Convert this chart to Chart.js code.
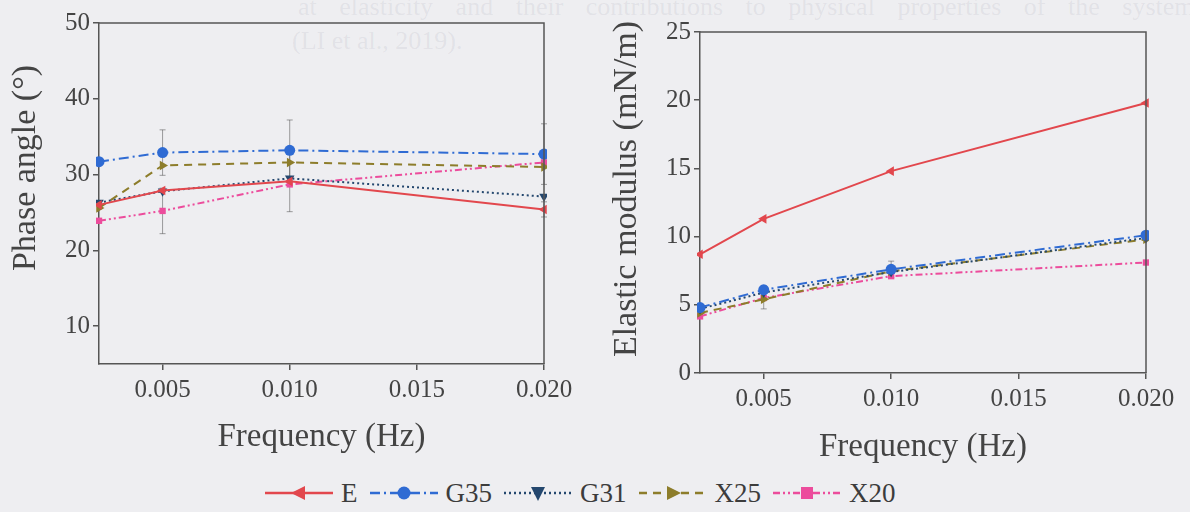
<!DOCTYPE html>
<html>
<head>
<meta charset="utf-8">
<title>Phase angle and elastic modulus vs frequency</title>
<script src="https://cdn.jsdelivr.net/npm/chart.js@4.4.1/dist/chart.umd.min.js"></script>
<style>
  body {
    margin: 0;
    width: 1190px;
    height: 512px;
    overflow: hidden;
    position: relative;
    background: #eeeef1;
    font-family: "Liberation Serif", "DejaVu Serif", serif;
  }
  .panel { position: absolute; top: 0; height: 470px; }
  #phasePanel { left: 0; width: 590px; }
  #modulusPanel { left: 590px; width: 600px; }
  .bleed {
    position: absolute;
    color: rgba(120, 120, 135, 0.11);
    font-size: 26px;
    white-space: nowrap;
  }
  #legend {
    position: absolute;
    left: 263px;
    top: 474px;
    height: 38px;
    display: flex;
    align-items: center;
    font-size: 27px;
    color: #3c3c3c;
  }
  .item { display: flex; align-items: center; margin-right: 10px; }
  .item svg { margin-right: 6px; }
</style>
</head>
<body>

<div class="bleed" style="left:298px; top:-8px; word-spacing:16px;">at elasticity and their contributions to physical properties of the system</div>
<div class="bleed" style="left:292px; top:26px;">(LI et al., 2019).</div>

<div class="panel" id="phasePanel"><canvas id="phaseChart" width="590" height="470"></canvas></div>
<div class="panel" id="modulusPanel"><canvas id="modulusChart" width="600" height="470"></canvas></div>
<div id="legend"></div>

<script>
// frequencies measured (Hz) and axis ticks
const freqs = [0.0025, 0.005, 0.010, 0.020];
const freqTicks = [0.005, 0.010, 0.015, 0.020];
const phaseTicks = [10, 20, 30, 40, 50];
const modulusTicks = [0, 5, 10, 15, 20, 25];

const seriesNames = ['E', 'G35', 'G31', 'X25', 'X20'];

// phase angle (deg)
const phaseE   = [26.0, 27.9, 29.1, 25.4];
const phaseG35 = [31.7, 32.9, 33.2, 32.7];
const phaseG31 = [26.3, 27.8, 29.5, 27.1];
const phaseX25 = [25.6, 31.2, 31.6, 31.0];
const phaseX20 = [23.9, 25.2, 28.7, 31.6];

// phase angle standard deviations
const phaseErrE   = [0, 0, 4.0, 1.0];
const phaseErrG35 = [0, 3.0, 4.0, 4.0];
const phaseErrG31 = [0, 0, 0, 0];
const phaseErrX25 = [0, 0, 0, 0];
const phaseErrX20 = [0, 3.0, 0, 0];

// elastic modulus (mN/m)
const modE   = [8.7, 11.3, 14.8, 19.8];
const modG35 = [4.8, 6.1, 7.6, 10.1];
const modG31 = [4.7, 5.9, 7.4, 9.9];
const modX25 = [4.4, 5.4, 7.45, 9.8];
const modX20 = [4.15, 5.5, 7.1, 8.1];

// elastic modulus standard deviations
const modErrE   = [0, 0, 0, 0];
const modErrG35 = [0, 0.3, 0.6, 0];
const modErrG31 = [0, 0, 0, 0];
const modErrX25 = [0, 0.7, 0, 0];
const modErrX20 = [0, 0, 0, 0];

// line / marker look for each sample
const seriesStyles = [
  { color: '#e2474d', dash: [], marker: 'triangle', rot: -90 },
  { color: '#2f6bd3', dash: [10, 4, 2, 4], marker: 'circle', rot: 0 },
  { color: '#24476e', dash: [2, 3], marker: 'triangle', rot: 180 },
  { color: '#8d7d2b', dash: [8, 6], marker: 'triangle', rot: 90 },
  { color: '#ec4c9c', dash: [7, 3, 2, 3, 2, 3], marker: 'rect', rot: 0 }
];

const AXIS_COLOR = '#555';
const TEXT_COLOR = '#444';
const SERIF = '"Liberation Serif", "DejaVu Serif", serif';

function buildDatasets(seriesValues, seriesErrors) {
  return seriesValues.map((vals, s) => {
    const st = seriesStyles[s];
    return {
      label: seriesNames[s],
      data: freqs.map((f, i) => ({ x: f, y: vals[i] })),
      errors: seriesErrors[s],
      borderColor: st.color,
      backgroundColor: st.color,
      borderWidth: 2,
      borderDash: st.dash,
      pointStyle: st.marker,
      rotation: st.rot,
      pointRadius: st.marker === 'rect' ? 4.5 : 5.5,
      pointBorderWidth: 0,
      tension: 0,
      clip: 3
    };
  });
}

// vertical error bars drawn with the chart's own scales
const errorBars = {
  id: 'errorBars',
  beforeDatasetsDraw(chart) {
    const { ctx, scales: { x, y } } = chart;
    ctx.save();
    ctx.strokeStyle = 'rgba(70,70,70,0.5)';
    ctx.lineWidth = 1;
    chart.data.datasets.forEach(ds => {
      (ds.errors || []).forEach((e, i) => {
        if (!e) return;
        const px = x.getPixelForValue(ds.data[i].x);
        const top = y.getPixelForValue(ds.data[i].y + e);
        const bot = y.getPixelForValue(ds.data[i].y - e);
        ctx.beginPath();
        ctx.moveTo(px, top); ctx.lineTo(px, bot);
        ctx.moveTo(px - 3, top); ctx.lineTo(px + 3, top);
        ctx.moveTo(px - 3, bot); ctx.lineTo(px + 3, bot);
        ctx.stroke();
      });
    });
    ctx.restore();
  }
};

// closes the plot box (top and right edges)
const frameBox = {
  id: 'frameBox',
  afterDraw(chart) {
    const { ctx, chartArea: a } = chart;
    ctx.save();
    ctx.strokeStyle = AXIS_COLOR;
    ctx.lineWidth = 1.5;
    ctx.beginPath();
    ctx.moveTo(a.left, a.top);
    ctx.lineTo(a.right, a.top);
    ctx.lineTo(a.right, a.bottom);
    ctx.stroke();
    ctx.restore();
  }
};

// rotated y-axis title placed freely
const sideTitle = {
  id: 'sideTitle',
  afterDraw(chart, args, opts) {
    const ctx = chart.ctx;
    ctx.save();
    ctx.translate(opts.x, opts.y);
    ctx.rotate(-Math.PI / 2);
    ctx.font = '34px ' + SERIF;
    ctx.fillStyle = TEXT_COLOR;
    ctx.textAlign = 'center';
    ctx.textBaseline = 'middle';
    ctx.fillText(opts.text, 0, 0);
    ctx.restore();
  }
};

function makeChart(canvasId, cfg) {
  return new Chart(document.getElementById(canvasId), {
    type: 'line',
    data: { datasets: buildDatasets(cfg.values, cfg.errors) },
    plugins: [errorBars, frameBox, sideTitle],
    options: {
      responsive: false,
      animation: false,
      events: [],
      layout: { padding: { left: 0, top: cfg.padTop, right: cfg.padRight, bottom: 0 } },
      plugins: {
        legend: { display: false },
        tooltip: { enabled: false },
        sideTitle: { text: cfg.yTitle, x: cfg.titleX, y: cfg.titleY }
      },
      scales: {
        x: {
          type: 'linear',
          min: 0.0025,
          max: 0.020,
          afterBuildTicks: s => { s.ticks = freqTicks.map(v => ({ value: v })); },
          afterFit: s => { s.height = cfg.xHeight; },
          border: { display: true, color: AXIS_COLOR, width: 1.5 },
          grid: { display: true, drawOnChartArea: false, drawTicks: true, tickLength: 6, color: AXIS_COLOR, lineWidth: 1.5 },
          ticks: {
            autoSkip: false,
            maxRotation: 0,
            padding: 5,
            color: TEXT_COLOR,
            font: { family: SERIF, size: 25 },
            callback: v => v.toFixed(3)
          },
          title: {
            display: true,
            text: 'Frequency (Hz)',
            color: TEXT_COLOR,
            font: { family: SERIF, size: 33 },
            padding: { top: 0, bottom: cfg.xTitlePad }
          }
        },
        y: {
          type: 'linear',
          min: cfg.yMin,
          max: cfg.yMax,
          afterBuildTicks: s => { s.ticks = cfg.yTicks.map(v => ({ value: v })); },
          afterFit: s => { s.width = cfg.yWidth; },
          border: { display: true, color: AXIS_COLOR, width: 1.5 },
          grid: { display: true, drawOnChartArea: false, drawTicks: true, tickLength: 6, color: AXIS_COLOR, lineWidth: 1.5 },
          ticks: {
            padding: 3,
            color: TEXT_COLOR,
            font: { family: SERIF, size: 25 }
          }
        }
      }
    }
  });
}

makeChart('phaseChart', {
  values: [phaseE, phaseG35, phaseG31, phaseX25, phaseX20],
  errors: [phaseErrE, phaseErrG35, phaseErrG31, phaseErrX25, phaseErrX20],
  yMin: 5, yMax: 50, yTicks: phaseTicks,
  yTitle: 'Phase angle (°)', titleX: 26, titleY: 168,
  padTop: 23, padRight: 46, yWidth: 99, xHeight: 106, xTitlePad: 13
});

makeChart('modulusChart', {
  values: [modE, modG35, modG31, modX25, modX20],
  errors: [modErrE, modErrG35, modErrG31, modErrX25, modErrX20],
  yMin: 0, yMax: 25, yTicks: modulusTicks,
  yTitle: 'Elastic modulus (mN/m)', titleX: 37, titleY: 189,
  padTop: 32, padRight: 44, yWidth: 110, xHeight: 97, xTitlePad: 3
});

// legend with line samples matching each dataset's stroke and marker
const legendEl = document.getElementById('legend');
seriesNames.forEach((name, s) => {
  const st = seriesStyles[s];
  const c = st.color;
  let marker;
  if (st.marker === 'circle') {
    marker = `<circle cx="36" cy="12" r="6.5" fill="${c}"/>`;
  } else if (st.marker === 'rect') {
    marker = `<rect x="30" y="6" width="12" height="12" fill="${c}"/>`;
  } else {
    marker = `<polygon points="36,4 43,18 29,18" fill="${c}" transform="rotate(${st.rot} 36 12)"/>`;
  }
  const item = document.createElement('div');
  item.className = 'item';
  item.innerHTML =
    `<svg width="72" height="24"><line x1="2" y1="12" x2="70" y2="12" stroke="${c}" stroke-width="2.5" stroke-dasharray="${st.dash.join(' ')}"/>${marker}</svg><span>${name}</span>`;
  legendEl.appendChild(item);
});
</script>
</body>
</html>
